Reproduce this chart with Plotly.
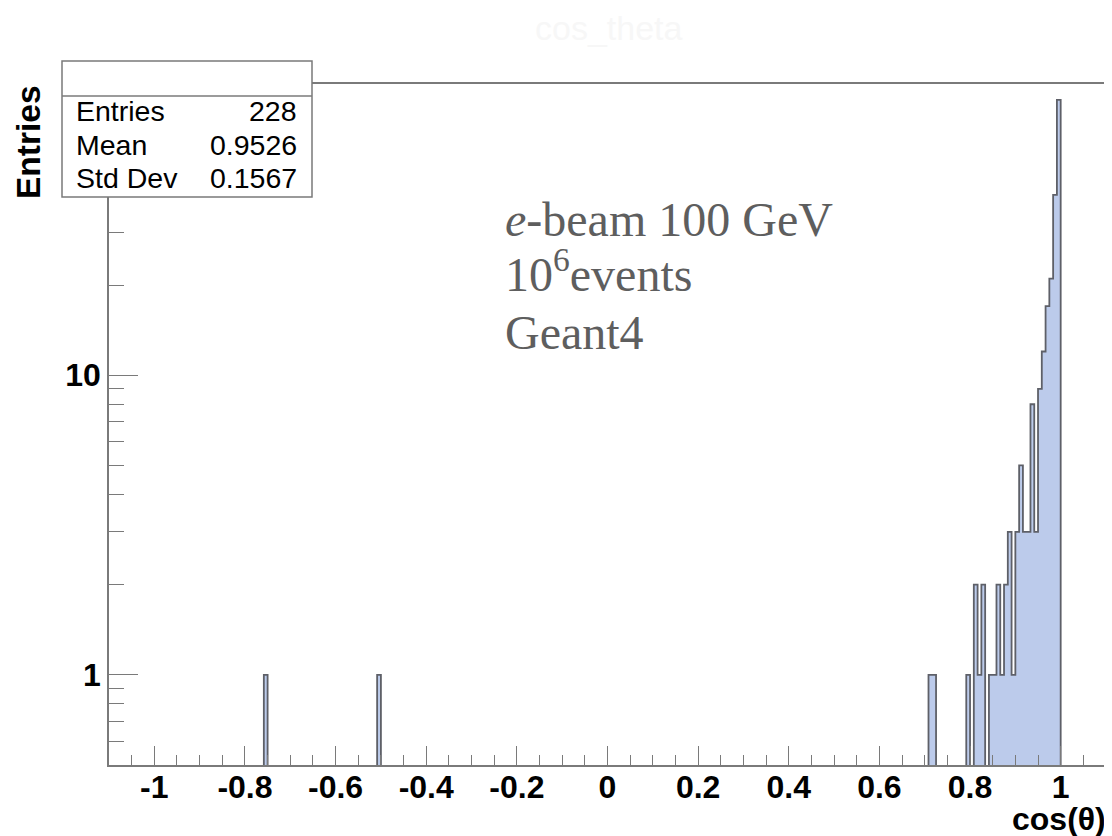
import math
import plotly.graph_objects as go

# ---------------- data ----------------
bin_centers = [-0.754167, -0.504167, 0.7125, 0.720833, 0.795833, 0.8125, 0.820833,
               0.829167, 0.845833, 0.854167, 0.8625, 0.870833, 0.879167, 0.8875,
               0.895833, 0.904167, 0.9125, 0.920833, 0.929167, 0.9375, 0.945833,
               0.954167, 0.9625, 0.970833, 0.979167, 0.9875, 0.995833]
bin_counts = [1, 1, 1, 1, 1, 2, 1, 2, 1, 1, 2, 1, 2, 3, 1, 3, 5, 3, 3, 8, 3, 9,
              12, 17, 21, 40, 83]
hist_lo, hist_hi, n_bins = -1.1, 1.1, 264

x_tick_vals = [-1, -0.8, -0.6, -0.4, -0.2, 0, 0.2, 0.4, 0.6, 0.8, 1]
x_tick_text = ["-1", "-0.8", "-0.6", "-0.4", "-0.2", "0", "0.2", "0.4", "0.6", "0.8", "1"]
y_tick_vals = [1, 10]
y_tick_text = ["1", "10"]
y_minor_vals = [0.6, 0.7, 0.8, 0.9, 2, 3, 4, 5, 6, 7, 8, 9, 20, 30, 40, 50, 60, 70, 80, 90]

stats_labels = ["Entries", "Mean", "Std Dev"]
stats_values = ["228", "0.9526", "0.1567"]
note_lines = ["<i>e</i>-beam 100 GeV", "10<sup>6</sup>events", "Geant4"]

# ---------------- build histogram outline ----------------
bw = (hist_hi - hist_lo) / n_bins
full = [0] * n_bins
for c, n in zip(bin_centers, bin_counts):
    full[int(round((c - hist_lo) / bw - 0.5))] = n

FLOOR = 1e-3
xs, ys = [hist_lo], [FLOOR]
for i, n in enumerate(full):
    lo = hist_lo + i * bw
    hi = lo + bw
    v = n if n > 0 else FLOOR
    xs += [lo, hi]
    ys += [v, v]
xs.append(hist_hi)
ys.append(FLOOR)

# ---------------- layout geometry (page pixels) ----------------
OFF = 8                      # default body margin of the html page
PAGE_W, PAGE_H = 1112, 836
W_FIG, H_FIG = PAGE_W - OFF, PAGE_H - OFF
L, R, T, B = 109, 1106, 84, 765
PW, PH = R - L, B - T


def px(x):
    return (x - L) / PW


def py(y):
    return (B - y) / PH


GRAY = "#7a7a7a"
FILL = "#bccbeb"
LINE = "#5e6068"

fig = go.Figure()
fig.add_trace(go.Scatter(x=xs, y=ys, mode="lines", fill="toself",
                         fillcolor=FILL, line=dict(color=LINE, width=1.8),
                         hoverinfo="skip", showlegend=False))

fig.update_layout(
    width=W_FIG, height=H_FIG,
    margin=dict(l=L - OFF, r=PAGE_W - R, t=T - OFF, b=PAGE_H - B, pad=0, autoexpand=False),
    paper_bgcolor="white", plot_bgcolor="white",
    showlegend=False,
    font=dict(family="Liberation Sans, Arial, sans-serif", color="black"),
)

fig.update_xaxes(
    range=[hist_lo, hist_hi], showgrid=False, zeroline=False, automargin=False,
    showline=True, linecolor=GRAY, linewidth=1.5, mirror=True,
    ticks="inside", ticklen=19, tickwidth=1.3, tickcolor=GRAY,
    tickvals=x_tick_vals, ticktext=x_tick_text, ticklabelstandoff=-7,
    tickfont=dict(family="Liberation Sans, Arial", size=32, color="black", weight="bold"),
    minor=dict(ticks="inside", ticklen=10, tickwidth=1.3, tickcolor=GRAY, dtick=0.05, tick0=0,
               showgrid=False),
)
fig.update_yaxes(
    type="log", range=[math.log10(0.5), 1.972], showgrid=False, zeroline=False, automargin=False,
    showline=True, linecolor=GRAY, linewidth=1.5, mirror=True,
    ticks="inside", ticklen=29, tickwidth=1.3, tickcolor=GRAY,
    tickvals=y_tick_vals, ticktext=y_tick_text,
    tickfont=dict(family="Liberation Sans, Arial", size=32, color="black", weight="bold"),
    minor=dict(ticks="inside", ticklen=15, tickwidth=1.3, tickcolor=GRAY,
               tickvals=y_minor_vals, showgrid=False),
)

ann = []
# axis titles
ann.append(dict(text="<b>cos(θ)</b>", xref="paper", yref="paper", x=px(1108), y=py(819),
                xanchor="right", yanchor="middle", showarrow=False,
                font=dict(family="Liberation Sans, Arial", size=32, color="black")))
ann.append(dict(text="<b>Entries</b>", xref="paper", yref="paper", x=px(28), y=py(142),
                xanchor="center", yanchor="middle", textangle=-90, showarrow=False,
                font=dict(family="Liberation Sans, Arial", size=33.5, color="black")))
# faint title
ann.append(dict(text="cos_theta", xref="paper", yref="paper", x=px(609), y=py(28),
                xanchor="center", yanchor="middle", showarrow=False,
                font=dict(family="Liberation Sans, Arial", size=34, color="#f7f7f7")))

# stats box
shapes = [
    dict(type="rect", xref="paper", yref="paper", x0=px(62), x1=px(312), y0=py(197), y1=py(61),
         line=dict(color=GRAY, width=1.5), fillcolor="white", layer="above"),
    dict(type="line", xref="paper", yref="paper", x0=px(62), x1=px(312), y0=py(96), y1=py(96),
         line=dict(color=GRAY, width=1.5), layer="above"),
]
row_y = [111, 145, 178]
for lab, val, yy in zip(stats_labels, stats_values, row_y):
    ann.append(dict(text=lab, xref="paper", yref="paper", x=px(74), y=py(yy),
                    xanchor="left", yanchor="middle", showarrow=False,
                    font=dict(family="Liberation Sans, Arial", size=28.5, color="black")))
    ann.append(dict(text=val, xref="paper", yref="paper", x=px(299), y=py(yy),
                    xanchor="right", yanchor="middle", showarrow=False,
                    font=dict(family="Liberation Sans, Arial", size=28.5, color="black")))

# note text
note_y = [219, 271, 332]
for line_txt, yy in zip(note_lines, note_y):
    ann.append(dict(text=line_txt, xref="paper", yref="paper", x=px(503), y=py(yy),
                    xanchor="left", yanchor="middle", showarrow=False,
                    font=dict(family="Liberation Serif, Times New Roman, serif", size=48,
                              color="#5e5e5e")))

fig.update_layout(annotations=ann, shapes=shapes)
fig.write_html("out.html")
